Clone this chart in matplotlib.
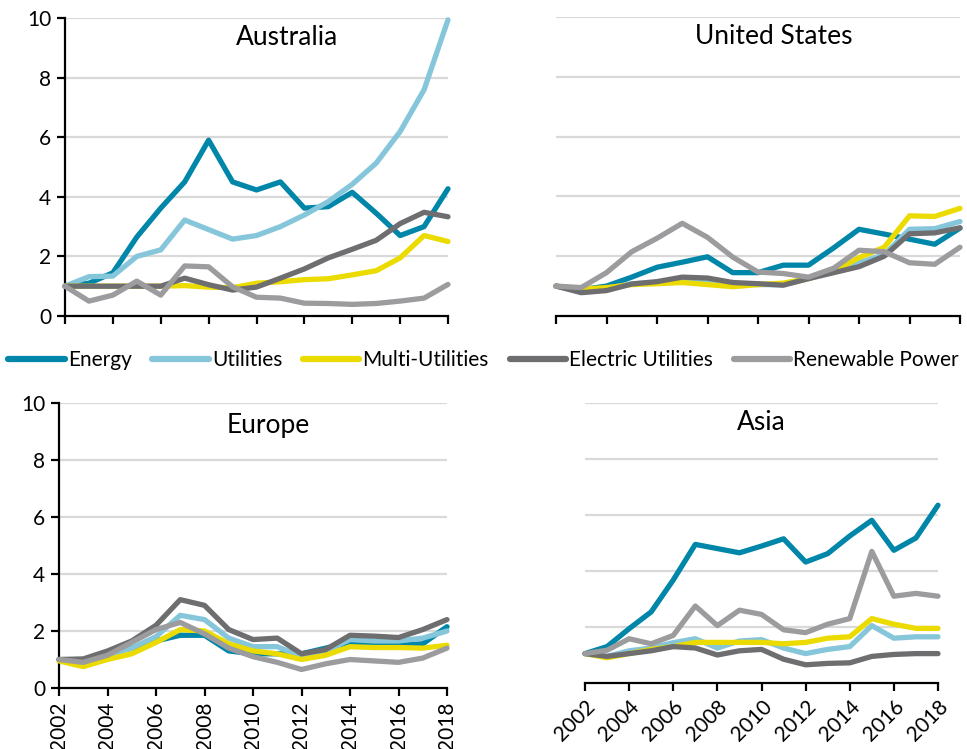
import matplotlib
matplotlib.use("Agg")
import matplotlib.pyplot as plt
from matplotlib.lines import Line2D

plt.rcParams['font.family'] = ['Lato', 'DejaVu Sans']

years = list(range(2002, 2019))
series_names = ["Energy", "Utilities", "Multi-Utilities", "Electric Utilities", "Renewable Power"]
series_colors = ["#0086A8", "#86C6DA", "#EBDB00", "#6E6E70", "#9C9C9F"]

australia_energy = [1.0, 1.1, 1.45, 2.65, 3.62, 4.5, 5.9, 4.5, 4.23, 4.5, 3.62, 3.67, 4.15, 3.45, 2.7, 3.0, 4.27]
australia_utilities = [1.0, 1.32, 1.34, 2.0, 2.22, 3.22, 2.9, 2.58, 2.7, 3.0, 3.39, 3.84, 4.42, 5.13, 6.19, 7.59, 9.94]
australia_multi = [1.0, 1.0, 1.0, 1.0, 1.0, 1.02, 0.97, 0.95, 1.1, 1.15, 1.22, 1.25, 1.38, 1.52, 1.95, 2.7, 2.5]
australia_electric = [1.0, 1.0, 1.0, 1.0, 1.0, 1.27, 1.05, 0.87, 0.97, 1.27, 1.58, 1.95, 2.24, 2.54, 3.1, 3.48, 3.33]
australia_renewable = [1.0, 0.5, 0.7, 1.17, 0.7, 1.68, 1.65, 0.98, 0.63, 0.6, 0.43, 0.42, 0.39, 0.42, 0.5, 0.6, 1.06]

us_energy = [1.0, 0.88, 1.0, 1.3, 1.63, 1.8, 1.98, 1.45, 1.45, 1.7, 1.7, 2.28, 2.9, 2.74, 2.57, 2.4, 2.94]
us_utilities = [1.0, 0.85, 0.92, 1.08, 1.12, 1.25, 1.2, 1.08, 1.05, 1.05, 1.25, 1.5, 1.78, 2.05, 2.9, 2.92, 3.16]
us_multi = [1.0, 0.9, 0.95, 1.05, 1.08, 1.12, 1.05, 0.98, 1.05, 1.1, 1.25, 1.5, 1.95, 2.3, 3.35, 3.33, 3.6]
us_electric = [1.0, 0.78, 0.85, 1.07, 1.15, 1.3, 1.27, 1.12, 1.08, 1.03, 1.25, 1.45, 1.65, 2.0, 2.75, 2.78, 2.95]
us_renewable = [1.0, 0.95, 1.45, 2.15, 2.6, 3.1, 2.63, 1.97, 1.47, 1.42, 1.3, 1.6, 2.2, 2.15, 1.78, 1.73, 2.3]

europe_energy = [1.0, 0.95, 1.2, 1.4, 1.65, 1.85, 1.85, 1.3, 1.2, 1.2, 1.2, 1.4, 1.6, 1.55, 1.5, 1.55, 2.15]
europe_utilities = [1.0, 0.95, 1.15, 1.4, 1.8, 2.55, 2.4, 1.75, 1.45, 1.45, 1.1, 1.3, 1.7, 1.65, 1.65, 1.75, 2.0]
europe_multi = [0.95, 0.75, 1.0, 1.2, 1.6, 2.05, 2.0, 1.55, 1.3, 1.2, 1.0, 1.15, 1.45, 1.42, 1.42, 1.4, 1.5]
europe_electric = [1.0, 1.02, 1.3, 1.65, 2.2, 3.1, 2.9, 2.05, 1.7, 1.75, 1.2, 1.35, 1.85, 1.82, 1.77, 2.05, 2.4]
europe_renewable = [1.0, 0.9, 1.15, 1.6, 2.05, 2.3, 1.9, 1.4, 1.1, 0.9, 0.65, 0.85, 1.0, 0.95, 0.9, 1.05, 1.4]

asia_energy = [1.05, 1.3, 1.94, 2.54, 3.68, 4.95, 4.8, 4.65, 4.89, 5.15, 4.32, 4.62, 5.25, 5.81, 4.74, 5.18, 6.35]
asia_utilities = [1.05, 0.95, 1.15, 1.25, 1.44, 1.58, 1.25, 1.5, 1.55, 1.25, 1.05, 1.2, 1.3, 2.05, 1.6, 1.65, 1.65]
asia_multi = [1.05, 0.9, 1.05, 1.2, 1.3, 1.45, 1.45, 1.45, 1.45, 1.4, 1.45, 1.6, 1.65, 2.3, 2.1, 1.95, 1.95]
asia_electric = [1.05, 0.95, 1.05, 1.15, 1.3, 1.25, 1.0, 1.15, 1.2, 0.85, 0.65, 0.7, 0.72, 0.95, 1.02, 1.05, 1.05]
asia_renewable = [1.05, 1.17, 1.58, 1.4, 1.7, 2.75, 2.05, 2.6, 2.45, 1.9, 1.8, 2.1, 2.3, 4.7, 3.1, 3.2, 3.1]

regions = {
    "Australia": [australia_energy, australia_utilities, australia_multi, australia_electric, australia_renewable],
    "United States": [us_energy, us_utilities, us_multi, us_electric, us_renewable],
    "Europe": [europe_energy, europe_utilities, europe_multi, europe_electric, europe_renewable],
    "Asia": [asia_energy, asia_utilities, asia_multi, asia_electric, asia_renewable],
}

y_ticks = [0, 2, 4, 6, 8, 10]
x_ticks = list(range(2002, 2019, 2))

W, H = 967, 749
fig = plt.figure(figsize=(W / 100, H / 100), dpi=100)


def px_axes(left, right, top, bottom):
    """Create axes from pixel edges measured from the top-left corner."""
    return fig.add_axes([left / W, 1 - bottom / H, (right - left) / W, (bottom - top) / H])


# panel boxes (left, right, top, bottom) and title placement in axes fractions
layout = {
    "Australia": dict(box=(65, 448, 18, 316), yaxis=True, rot=None, title_x=0.58, title_y=0.933),
    "United States": dict(box=(556, 960, 17, 316), yaxis=False, rot=None, title_x=0.54, title_y=0.935),
    "Europe": dict(box=(59, 447, 403, 688), yaxis=True, rot=90, title_x=0.54, title_y=0.92),
    "Asia": dict(box=(585, 938, 403, 683), yaxis=False, rot=45, title_x=0.50, title_y=0.93),
}

for name, cfg in layout.items():
    ax = px_axes(*cfg["box"])
    for vals, color in zip(regions[name], series_colors):
        ax.plot(years, vals, color=color, lw=3.8, solid_capstyle="round",
                solid_joinstyle="round", zorder=3, clip_on=False)
    ax.set_xlim(2002, 2018)
    ax.set_ylim(0, 10)
    for v in y_ticks[1:]:
        ax.axhline(v, color="#D9D9D9", lw=1.6, zorder=1)
    ax.set_xticks(x_ticks)
    ax.set_yticks(y_ticks)
    for s in ["top", "right"]:
        ax.spines[s].set_visible(False)
    ax.spines["bottom"].set_linewidth(1.6)
    ax.spines["bottom"].set_color("black")
    ax.tick_params(axis="x", direction="out", length=6, width=1.6, colors="black",
                   labelsize=15)
    if cfg["yaxis"]:
        ax.spines["left"].set_linewidth(1.6)
        ax.spines["left"].set_color("black")
        ax.tick_params(axis="y", direction="out", length=6, width=1.6, labelsize=15, pad=4)
    else:
        ax.spines["left"].set_visible(False)
        ax.tick_params(axis="y", left=False, labelleft=False)
    if cfg["rot"] is None:
        ax.tick_params(axis="x", labelbottom=False)
    elif cfg["rot"] == 90:
        ax.set_xticklabels([str(y) for y in x_ticks], rotation=90, va="top", ha="center")
    else:
        ax.set_xticklabels([str(y) for y in x_ticks], rotation=45, ha="right",
                           rotation_mode="anchor")
    ax.text(cfg["title_x"], cfg["title_y"], name, transform=ax.transAxes,
            fontsize=19, ha="center", va="center")

handles = [Line2D([0], [0], color=c, lw=4.5, solid_capstyle="round") for c in series_colors]
fig.legend(handles, series_names, loc="center", bbox_to_anchor=(0.5, 1 - 360 / H),
           ncol=5, frameon=False, fontsize=15, handlelength=2.7, handletextpad=0.15,
           columnspacing=1.0, borderaxespad=0)

fig.savefig("out.png", dpi=100)
